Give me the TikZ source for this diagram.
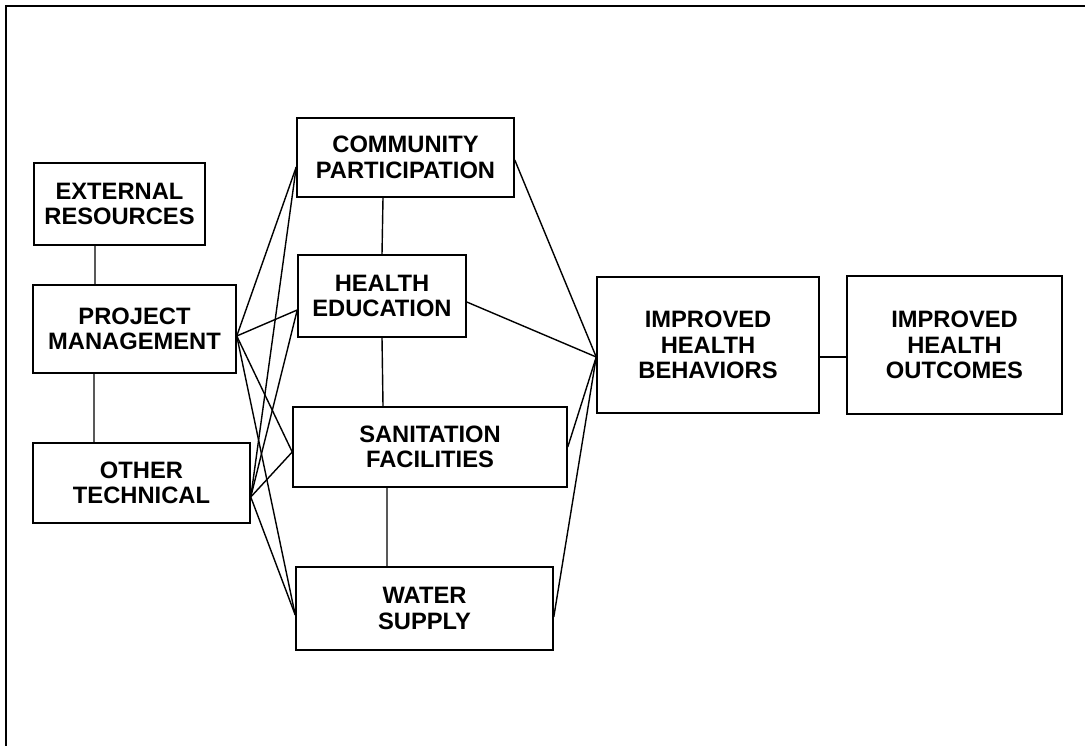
\documentclass[tikz,border=0pt]{standalone}
\usepackage{fontspec}
\setmainfont{Liberation Sans}

\tikzset{
        blk/.style={draw, line width=0.9pt, align=center, inner sep=0pt,
                font=\bfseries\fontsize{13.5}{14.6}\selectfont},
        lnk/.style={line width=0.8pt},
}

\begin{document}
\begin{tikzpicture}[x=0.02cm, y=-0.02cm]
        \useasboundingbox (0,0) rectangle (1085,746);
        \draw[line width=1.2pt] (6,746) -- (6,6) -- (1085,6);

        % inputs
        \node[blk, minimum width=3.42cm, minimum height=1.64cm] (er) at (119.5,204) {EXTERNAL\\RESOURCES};
        \node[blk, minimum width=4.06cm, minimum height=1.76cm] (pm) at (134.5,329) {PROJECT\\MANAGEMENT};
        \node[blk, minimum width=4.34cm, minimum height=1.60cm] (ot) at (141.5,483) {OTHER\\TECHNICAL};

        % components
        \node[blk, minimum width=4.34cm, minimum height=1.58cm] (cp) at (405.5,157.5) {COMMUNITY\\PARTICIPATION};
        \node[blk, minimum width=3.36cm, minimum height=1.64cm] (he) at (382,296) {HEALTH\\EDUCATION};
        \node[blk, minimum width=5.48cm, minimum height=1.60cm] (sf) at (430,447) {SANITATION\\FACILITIES};
        \node[blk, minimum width=5.14cm, minimum height=1.66cm] (ws) at (424.5,608.5) {WATER\\SUPPLY};

        % results
        \node[blk, minimum width=4.44cm, minimum height=2.72cm] (ihb) at (708,345) {IMPROVED\\HEALTH\\BEHAVIORS};
        \node[blk, minimum width=4.30cm, minimum height=2.76cm] (iho) at (954.5,345) {IMPROVED\\HEALTH\\OUTCOMES};

        \coordinate (pmR) at ([yshift=-0.14cm]pm.east);
        \coordinate (otR) at ([yshift=-0.28cm]ot.east);
        \coordinate (cpL) at ([yshift=-0.19cm]cp.west);
        \coordinate (heL) at ([yshift=-0.28cm]he.west);
        \coordinate (sfL) at ([yshift=-0.10cm]sf.west);
        \coordinate (wsL) at ([yshift=-0.13cm]ws.west);
        \coordinate (cpR) at ([yshift=-0.05cm]cp.east);
        \coordinate (heR) at ([yshift=-0.12cm]he.east);
        \coordinate (sfR) at (sf.east);
        \coordinate (wsR) at ([yshift=-0.17cm]ws.east);
        \coordinate (ihbL) at ([yshift=-0.24cm]ihb.west);

        \draw[lnk] ([xshift=-0.49cm]er.south) -- ([xshift=-0.79cm]pm.north);
        \draw[lnk] ([xshift=-0.81cm]pm.south) -- ([xshift=-0.95cm]ot.north);
        \draw[lnk] ([xshift=-0.45cm]cp.south) -- (he.north);
        \draw[lnk] (he.south) -- ([xshift=-0.94cm]sf.north);
        \draw[lnk] ([xshift=-0.86cm]sf.south) -- ([xshift=-0.75cm]ws.north);
        \draw[lnk] ([yshift=-0.24cm]ihb.east) -- ([yshift=-0.24cm]iho.west);

        \foreach \t in {cpL, heL, sfL, wsL} {
                \draw[lnk] (pmR) -- (\t);
                \draw[lnk] (otR) -- (\t);
        }
        \foreach \s in {cpR, heR, sfR, wsR}
                \draw[lnk] (\s) -- (ihbL);
\end{tikzpicture}
\end{document}
